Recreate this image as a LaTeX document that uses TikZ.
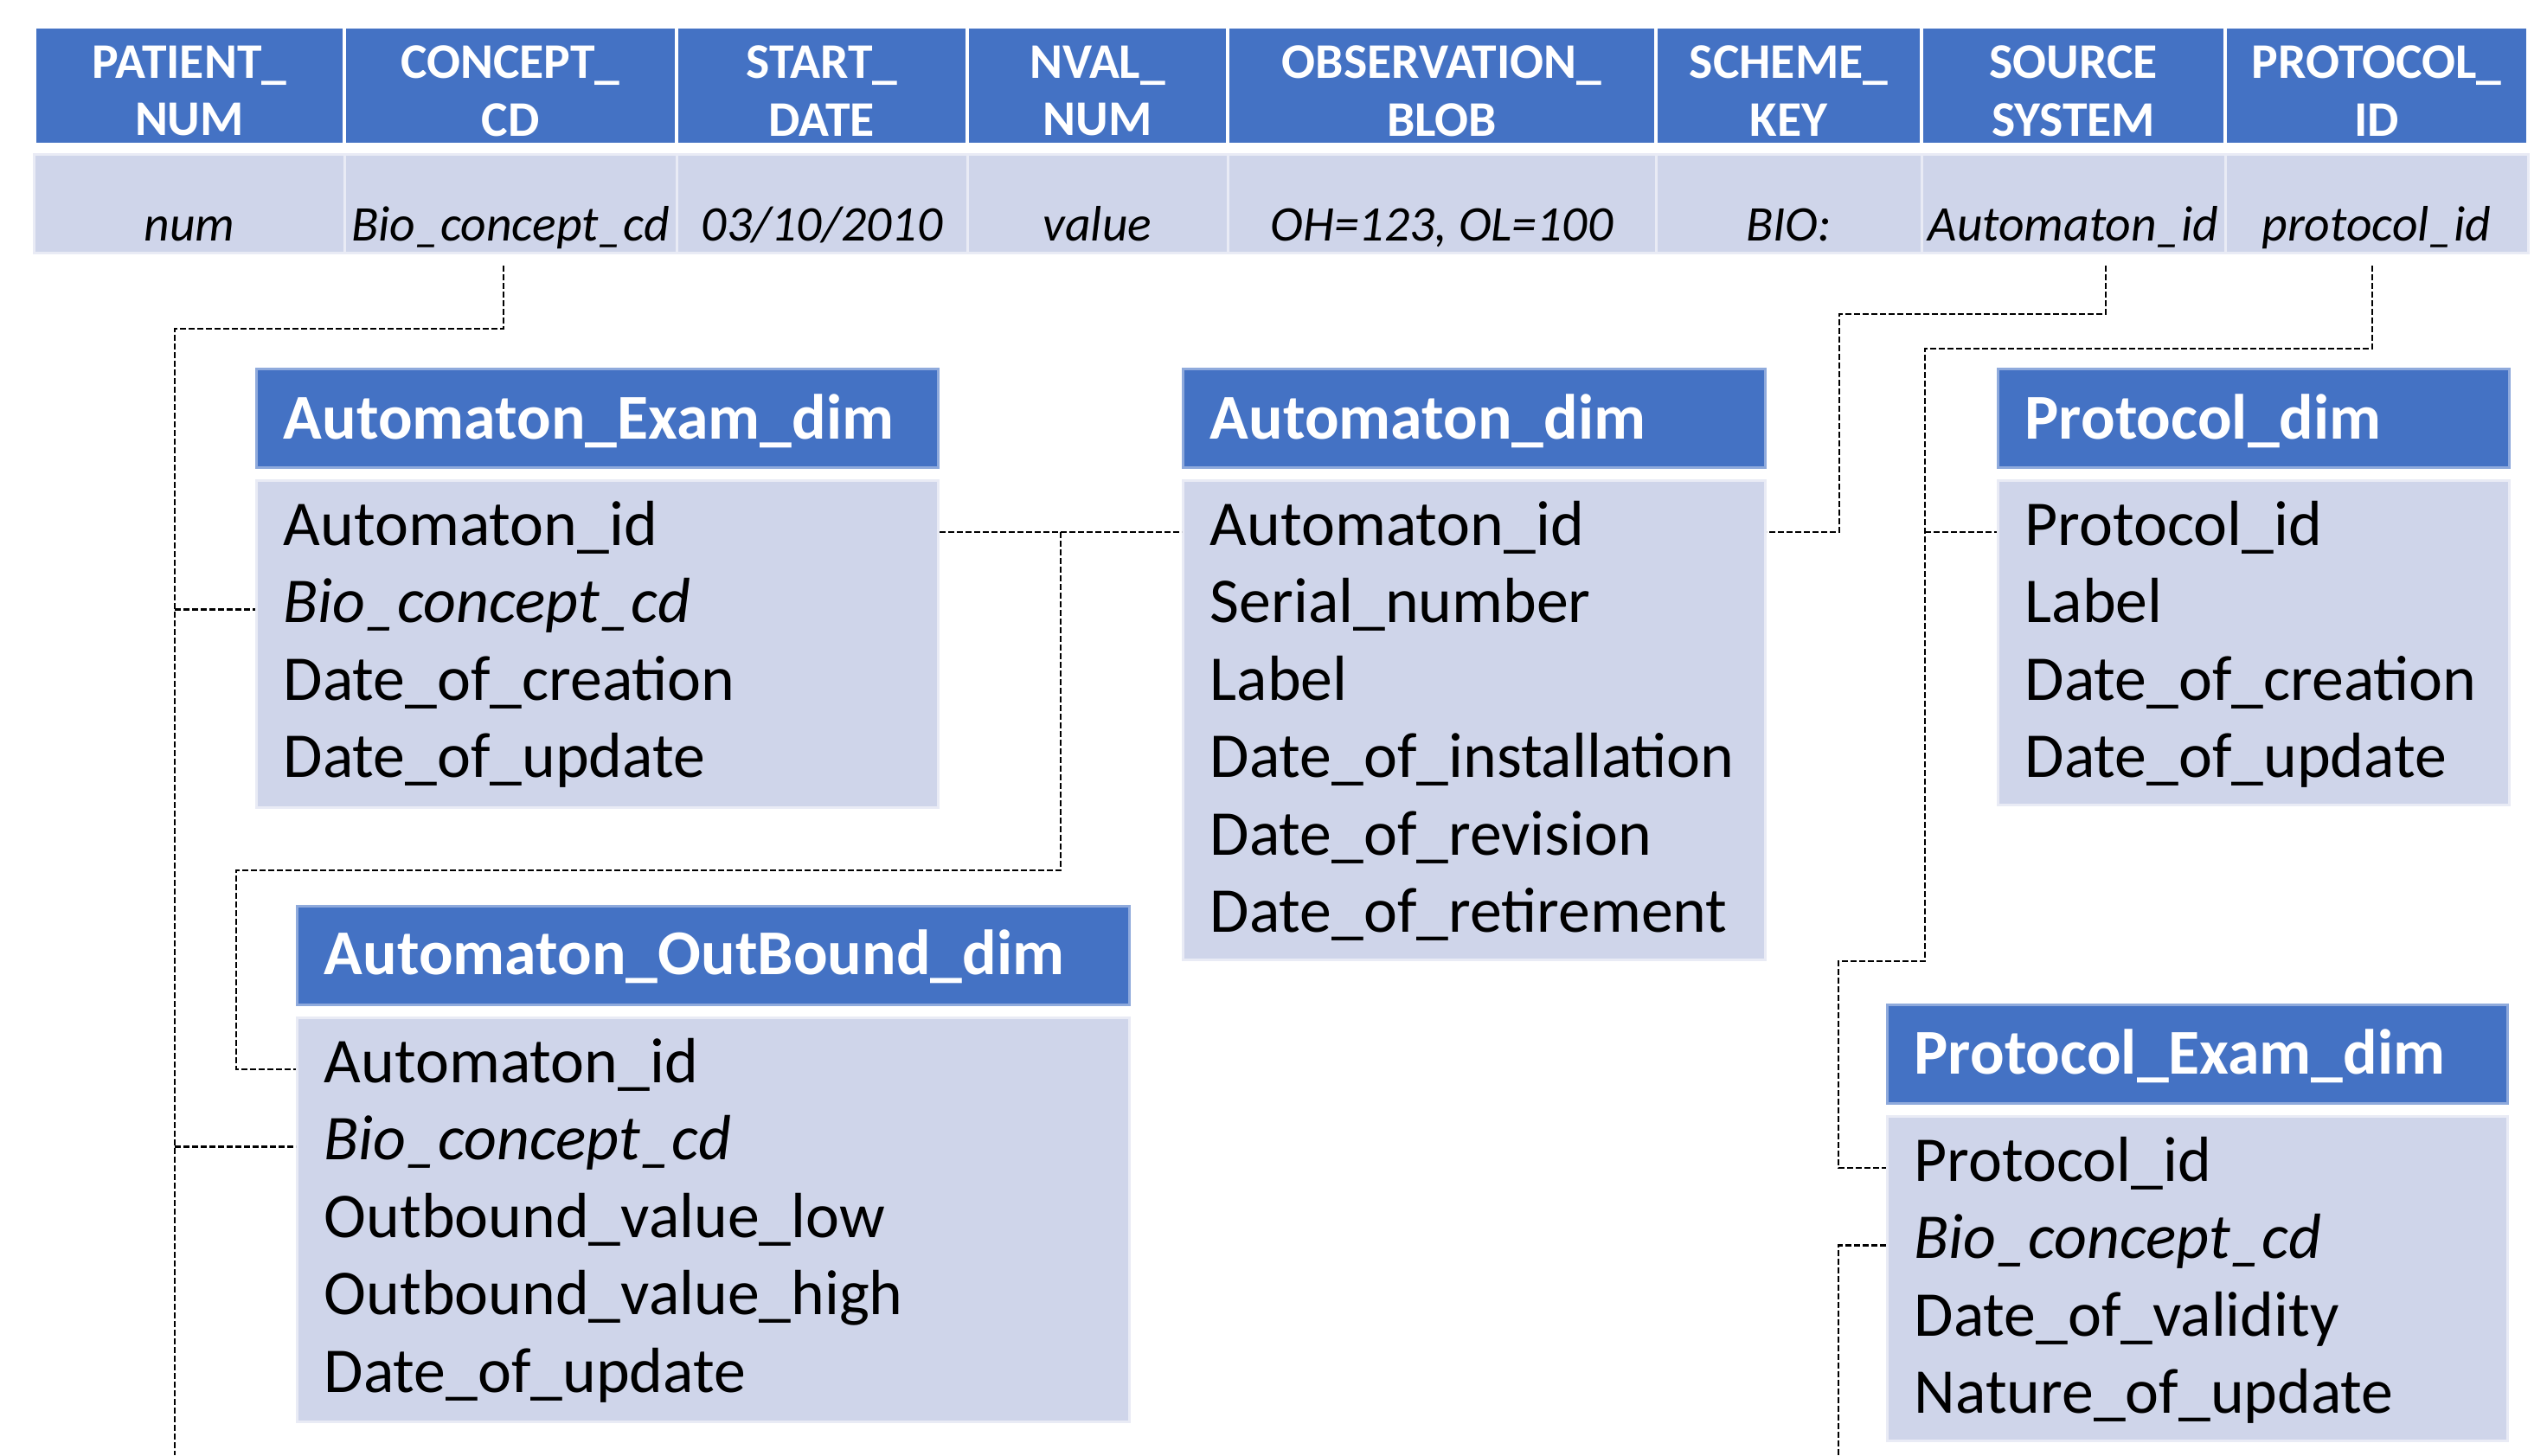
\documentclass[tikz,border=0pt]{standalone}
\usepackage{fontspec}
\setmainfont{Carlito}
\usepackage{tikz}
\usetikzlibrary{calc,positioning}
\definecolor{hdblue}{HTML}{4472C4}
\definecolor{rowblue}{HTML}{CFD5EA}
\definecolor{edgeblue}{HTML}{E9EBF5}
\definecolor{topblue}{HTML}{8FAADC}
\tikzset{
  hdcell/.style={fill=hdblue, inner sep=0pt, minimum height=1.32cm},
  hdtxt/.style={text=white, inner sep=0pt, align=center, font=\bfseries\fontsize{16.4}{19}\selectfont},
  dcell/.style={fill=rowblue, draw=edgeblue, line width=0.3mm, inner sep=0pt, minimum height=1.14cm},
  dtxt/.style={anchor=base, inner sep=0pt, font=\itshape\fontsize{16.4}{19}\selectfont},
  titlebar/.style={fill=hdblue, draw=topblue, line width=0.3mm, anchor=north west, inner sep=0pt, minimum height=1.14cm},
  titletxt/.style={anchor=base west, inner sep=0pt, text=white, font=\bfseries\fontsize{21}{25}\selectfont},
  dimbody/.style={fill=rowblue, draw=edgeblue, line width=0.3mm, inner sep=0pt},
  field/.style={anchor=base west, inner sep=0pt, text height=0.47cm, text depth=0.17cm, font=\fontsize{21}{25}\selectfont},
  link/.style={black, line width=0.26mm, dash pattern=on 0.7mm off 0.3mm}
}

\begin{document}
\begin{tikzpicture}
\useasboundingbox (0,0) rectangle (29.44,-16.82);
\foreach \l/\r/\ha/\hb/\v [count=\i] in {0.40/3.98/PATIENT\_/NUM/num, 3.98/7.82/CONCEPT\_/CD/Bio\_concept\_cd, 7.82/11.18/START\_/DATE/{03/10/2010}, 11.18/14.19/NVAL\_/NUM/value, 14.19/19.14/OBSERVATION\_/BLOB/{OH=123, OL=100}, 19.14/22.21/SCHEME\_/KEY/BIO:, 22.21/25.72/SOURCE/SYSTEM/Automaton\_id, 25.72/29.22/PROTOCOL\_/ID/protocol\_id} {
 \node[hdcell, minimum width={(\r-\l)*1cm-0.4mm}] (hd\i) at ({(\l+\r)/2},-0.99) {};
 \node[hdtxt] (ht\i) at ({(\l+\r)/2},-1.05) {\ha\\\hb};
 \node[dcell, minimum width={(\r-\l)*1cm}] (dc\i) at ({(\l+\r)/2},-2.35) {};
 \node[dtxt] (dv\i) at ({(\l+\r)/2},-2.78) {\v};
}

\node[titlebar, minimum width=7.88cm] (aedtitle) at (2.95,-4.25) {};
\node[titletxt] (aedname) at ([xshift=0.32cm,yshift=-0.82cm]aedtitle.north west) {Automaton\_Exam\_dim};
\node[dimbody, below=0.12cm of aedtitle.south west, anchor=north west, minimum width=7.88cm, minimum height=3.78cm] (aedbody) {};
\foreach \f [count=\i] in {Automaton\_id, \textit{Bio\_concept\_cd}, Date\_of\_creation, Date\_of\_update}
 \node[field, yshift={-(\i-1)*0.895cm}] (aed\i) at ([xshift=0.32cm,yshift=-0.76cm]aedbody.north west) {\f};

\node[titlebar, minimum width=6.73cm] (adtitle) at (13.66,-4.25) {};
\node[titletxt] (adname) at ([xshift=0.32cm,yshift=-0.82cm]adtitle.north west) {Automaton\_dim};
\node[dimbody, below=0.12cm of adtitle.south west, anchor=north west, minimum width=6.73cm, minimum height=5.54cm] (adbody) {};
\foreach \f [count=\i] in {Automaton\_id, Serial\_number, Label, Date\_of\_installation, Date\_of\_revision, Date\_of\_retirement}
 \node[field, yshift={-(\i-1)*0.895cm}] (ad\i) at ([xshift=0.32cm,yshift=-0.76cm]adbody.north west) {\f};

\node[titlebar, minimum width=5.91cm] (pdtitle) at (23.08,-4.25) {};
\node[titletxt] (pdname) at ([xshift=0.32cm,yshift=-0.82cm]pdtitle.north west) {Protocol\_dim};
\node[dimbody, below=0.12cm of pdtitle.south west, anchor=north west, minimum width=5.91cm, minimum height=3.75cm] (pdbody) {};
\foreach \f [count=\i] in {Protocol\_id, Label, Date\_of\_creation, Date\_of\_update}
 \node[field, yshift={-(\i-1)*0.895cm}] (pd\i) at ([xshift=0.32cm,yshift=-0.76cm]pdbody.north west) {\f};

\node[titlebar, minimum width=9.62cm] (aodtitle) at (3.42,-10.46) {};
\node[titletxt] (aodname) at ([xshift=0.32cm,yshift=-0.80cm]aodtitle.north west) {Automaton\_OutBound\_dim};
\node[dimbody, below=0.12cm of aodtitle.south west, anchor=north west, minimum width=9.62cm, minimum height=4.67cm] (aodbody) {};
\foreach \f [count=\i] in {Automaton\_id, \textit{Bio\_concept\_cd}, Outbound\_value\_low, Outbound\_value\_high, Date\_of\_update}
 \node[field, yshift={-(\i-1)*0.895cm}] (aod\i) at ([xshift=0.32cm,yshift=-0.76cm]aodbody.north west) {\f};

\node[titlebar, minimum width=7.17cm] (pedtitle) at (21.80,-11.60) {};
\node[titletxt] (pedname) at ([xshift=0.32cm,yshift=-0.81cm]pedtitle.north west) {Protocol\_Exam\_dim};
\node[dimbody, below=0.12cm of pedtitle.south west, anchor=north west, minimum width=7.17cm, minimum height=3.75cm] (pedbody) {};
\foreach \f [count=\i] in {Protocol\_id, \textit{Bio\_concept\_cd}, Date\_of\_validity, Nature\_of\_update}
 \node[field, yshift={-(\i-1)*0.895cm}] (ped\i) at ([xshift=0.32cm,yshift=-0.76cm]pedbody.north west) {\f};

\coordinate (tapC) at (5.82,-3.07);
\coordinate (kneeC) at (2.02,-3.80);
\coordinate (endC) at (2.02,-16.82);
\draw[link] (tapC) |- (kneeC) -- (endC);
\draw[link] (kneeC |- aed2.west) -- (aedbody.west |- aed2.west);
\draw[link] (kneeC |- aod2.west) -- (aodbody.west |- aod2.west);

\coordinate (kneeA) at (12.26,-10.06);
\coordinate (kneeB) at (2.73,-10.06);
\draw[link] (aedbody.east |- aed1.west) -- (adbody.west |- aed1.west);
\draw[link] (kneeA |- aed1.west) -- (kneeA) -- (kneeB) |- (aodbody.west |- aod1.west);

\coordinate (tapS) at (24.34,-3.07);
\coordinate (kneeS) at (21.26,-3.63);
\draw[link] (tapS) |- (kneeS) |- (adbody.east |- ad1.west);

\coordinate (tapP) at (27.42,-3.07);
\coordinate (kneeP) at (22.25,-4.03);
\coordinate (kneeQ) at (21.25,-11.11);
\draw[link] (tapP) |- (kneeP) |- (kneeQ) |- (pedbody.west |- ped1.west);
\draw[link] (kneeP |- pd1.west) -- (pdbody.west |- pd1.west);

\coordinate (endP) at (21.25,-16.82);
\draw[link] (pedbody.west |- ped2.west) -| (endP);
\end{tikzpicture}
\end{document}
